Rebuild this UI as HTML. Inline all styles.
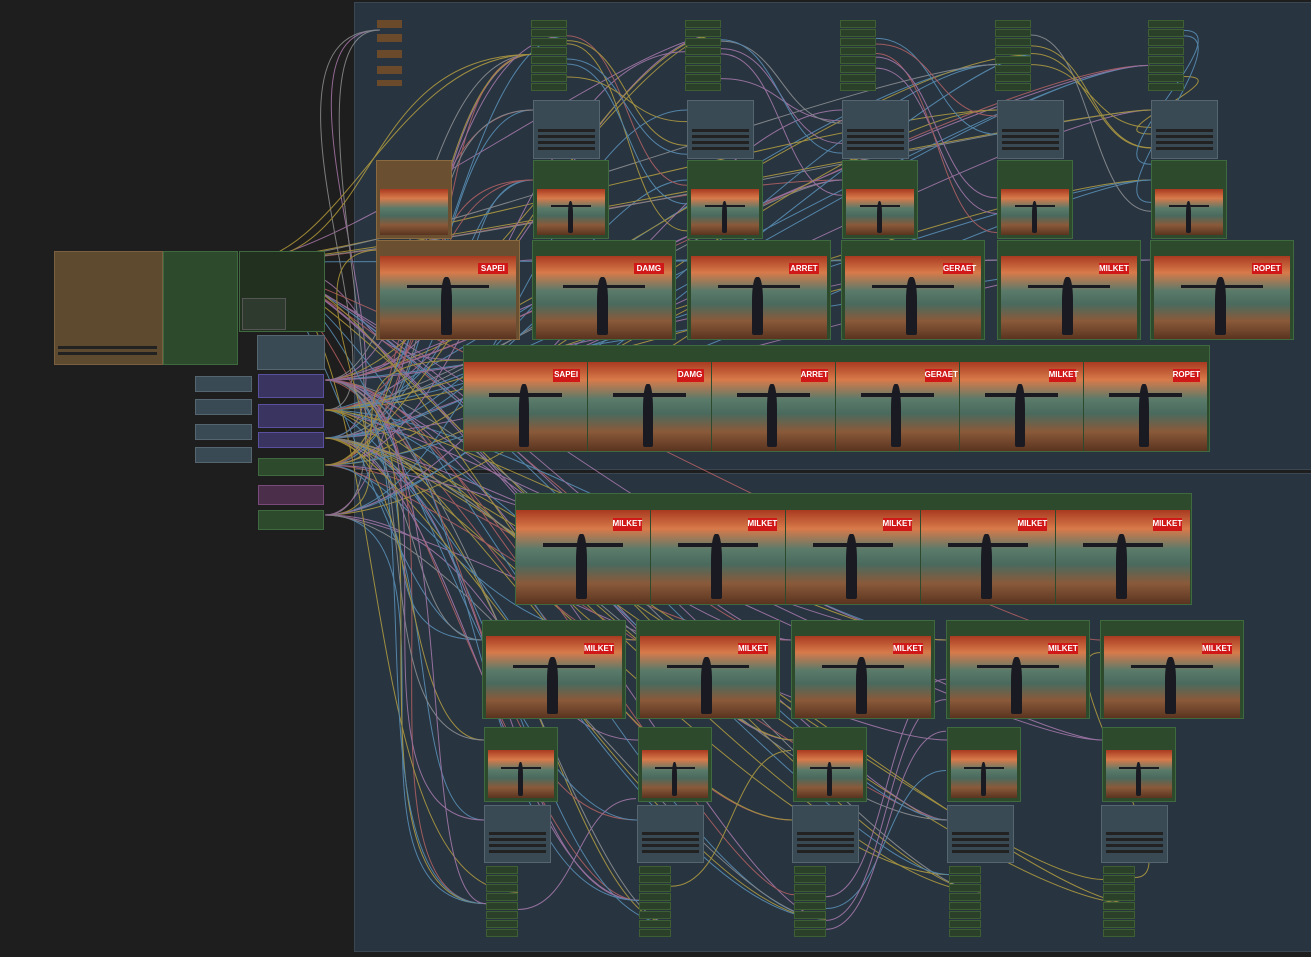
<!DOCTYPE html>
<html><head><meta charset="utf-8"><style>
body{margin:0;width:1311px;height:957px;background:#1e1e1e;overflow:hidden;position:relative;font-family:"Liberation Sans",sans-serif}
.a{position:absolute}
.grp{background:#283440;border:1px solid #3a4652}
.gn{background:#2d4a2d;border:1px solid #3f6a3f}
.gy{background:#3a4a55;border:1px solid #566670}
.img{background:linear-gradient(180deg,#a83a20 0%,#d87a4a 20%,#5a7a6a 42%,#4a6a5e 58%,#8a5a3a 78%,#5a3420 100%);overflow:hidden}
.fig{position:absolute;left:45%;top:25%;width:8%;height:70%;background:#1a1a22;border-radius:40% 40% 2px 2px}
.arm{position:absolute;left:20%;top:35%;width:60%;height:4%;background:#1a1a22}
.sign{position:absolute;right:6%;top:8%;width:22%;height:14%;background:#d01818;color:#fff;font-size:8px;font-weight:bold;text-align:center;line-height:1.6}
.bar{position:absolute;left:4px;right:4px;height:3px;background:#222}
.tiny{background:#2a4028;border:1px solid #3e5e34;height:6px}
</style></head><body>
<div class="a grp" style="left:354px;top:2px;width:956px;height:466px"></div>
<div class="a grp" style="left:354px;top:473px;width:956px;height:477px"></div>

<svg id="w" class="a" style="left:0;top:0" width="1311" height="957" fill="none" stroke-width="1" opacity="0.65"></svg>

<div class="a" style="left:54px;top:251px;width:107px;height:112px;background:#5e4a2e;border:1px solid #7a6040"></div>
<div class="bar" style="left:58px;top:346px;width:99px"></div><div class="bar" style="left:58px;top:352px;width:99px"></div>
<div class="a gn" style="left:163px;top:251px;width:73px;height:112px"></div>
<div class="a gn" style="left:239px;top:251px;width:84px;height:79px;background:#22301f"></div>
<div class="a" style="left:242px;top:298px;width:42px;height:30px;background:#2d3a2d;border:1px solid #555"></div>
<div class="a gy" style="left:257px;top:335px;width:66px;height:33px"></div>
<div class="a gy" style="left:195px;top:376px;width:55px;height:14px"></div>
<div class="a gy" style="left:195px;top:399px;width:55px;height:14px"></div>
<div class="a gy" style="left:195px;top:424px;width:55px;height:14px"></div>
<div class="a gy" style="left:195px;top:447px;width:55px;height:14px"></div>
<div class="a" style="left:258px;top:374px;width:64px;height:22px;background:#3a3460;border:1px solid #5a50a0"></div>
<div class="a" style="left:258px;top:404px;width:64px;height:22px;background:#3a3460;border:1px solid #5a50a0"></div>
<div class="a" style="left:258px;top:432px;width:64px;height:14px;background:#3a3460;border:1px solid #5a50a0"></div>
<div class="a gn" style="left:258px;top:458px;width:64px;height:16px"></div>
<div class="a" style="left:258px;top:485px;width:64px;height:18px;background:#4a2e4a;border:1px solid #7a4a7a"></div>
<div class="a gn" style="left:258px;top:510px;width:64px;height:18px"></div>

<div class="a" style="left:377px;top:20px;width:25px;height:8px;background:#6a4a2a"></div>
<div class="a" style="left:377px;top:34px;width:25px;height:8px;background:#6a4a2a"></div>
<div class="a" style="left:377px;top:50px;width:25px;height:8px;background:#6a4a2a"></div>
<div class="a" style="left:377px;top:66px;width:25px;height:8px;background:#6a4a2a"></div>
<div class="a" style="left:377px;top:80px;width:25px;height:6px;background:#6a4a2a"></div>

<div id="top"></div>
<div class="a" style="left:376px;top:160px;width:74px;height:77px;background:#6a5030;border:1px solid #8a6a40"><div class="img a" style="left:3px;top:28px;right:3px;bottom:3px"></div></div>
<div class="a" style="left:376px;top:240px;width:142px;height:98px;background:#6a5030;border:1px solid #8a6a40"><div class="img a" style="left:3px;top:15px;right:3px;bottom:0"><div class="fig"></div><div class="arm"></div><div class="sign">SAPEI</div></div></div>

<div class="a gn" style="left:463px;top:345px;width:745px;height:105px"><div id="s1" class="a" style="left:0;top:16px;right:0;bottom:0"></div></div>
<div class="a gn" style="left:515px;top:493px;width:675px;height:110px"><div id="s2" class="a" style="left:0;top:16px;right:0;bottom:0"></div></div>

<script>
var H='';
function add(s){H+=s}
var tx=[531,685,840,995,1148],ax=[533,687,842,997,1151],bx=[532,687,841,997,1150],sx=['DAMG','ARRET','GERAET','MILKET','ROPET'];
var fr='<div class="fig"></div><div class="arm"></div>';
for(var i=0;i<5;i++){
 for(var k=0;k<8;k++)add('<div class="a tiny" style="left:'+tx[i]+'px;top:'+(20+k*9)+'px;width:34px"></div>');
 add('<div class="a gy" style="left:'+ax[i]+'px;top:100px;width:65px;height:57px"><div class="bar" style="top:28px"></div><div class="bar" style="top:34px"></div><div class="bar" style="top:40px"></div><div class="bar" style="top:46px"></div></div>');
 add('<div class="a gn" style="left:'+ax[i]+'px;top:160px;width:74px;height:77px"><div class="img a" style="left:3px;top:28px;right:3px;bottom:3px">'+fr+'</div></div>');
 add('<div class="a gn" style="left:'+bx[i]+'px;top:240px;width:142px;height:98px"><div class="img a" style="left:3px;top:15px;right:3px;bottom:0">'+fr+'<div class="sign">'+sx[i]+'</div></div></div>');
}
var rx=[482,636,791,946,1100],mx=[484,638,793,947,1102],gx=[484,637,792,947,1101];
for(var i=0;i<5;i++){
 add('<div class="a gn" style="left:'+rx[i]+'px;top:620px;width:142px;height:97px"><div class="img a" style="left:3px;top:15px;right:3px;bottom:0">'+fr+'<div class="sign">MILKET</div></div></div>');
 add('<div class="a gn" style="left:'+mx[i]+'px;top:727px;width:72px;height:73px"><div class="img a" style="left:3px;top:22px;right:3px;bottom:3px">'+fr+'</div></div>');
 add('<div class="a gy" style="left:'+gx[i]+'px;top:805px;width:65px;height:56px"><div class="bar" style="top:26px"></div><div class="bar" style="top:32px"></div><div class="bar" style="top:38px"></div><div class="bar" style="top:44px"></div></div>');
 for(var k=0;k<8;k++)add('<div class="a tiny" style="left:'+(gx[i]+2)+'px;top:'+(866+k*9)+'px;width:30px"></div>');
}
document.getElementById('top').outerHTML=H;
var s1=['SAPEI','DAMG','ARRET','GERAET','MILKET','ROPET'],h='';
for(var j=0;j<6;j++)h+='<div class="img a" style="left:'+(j*124)+'px;width:123px;top:0;bottom:0">'+fr+'<div class="sign">'+s1[j]+'</div></div>';
document.getElementById('s1').innerHTML=h;h='';
for(var j=0;j<5;j++)h+='<div class="img a" style="left:'+(j*135)+'px;width:134px;top:0;bottom:0">'+fr+'<div class="sign">MILKET</div></div>';
document.getElementById('s2').innerHTML=h;
var seed=7;function r(){seed=(seed*9301+49297)%233280;return seed/233280}
var cols=['#e0c040','#d090d0','#6ab0e0','#e07070','#b0b0b0','#e0c040','#d090d0','#6ab0e0'];
var src=[[325,380],[325,410],[325,438],[325,465],[325,515],[240,262]];
var dst=[];
for(var i=0;i<5;i++){dst.push([tx[i]+2,25+r()*60],[ax[i],110],[ax[i],180],[bx[i],260],[rx[i],640],[mx[i],740],[gx[i],820],[gx[i]+2,870+r()*60],[tx[i]+36,30+r()*50],[gx[i]+34,880+r()*50]);}
dst.push([463,360],[515,505],[380,30],[380,170],[380,250]);
var p='';
for(var n=0;n<120;n++){var s=src[Math.floor(r()*src.length)],d=dst[Math.floor(r()*dst.length)];
 var c=cols[Math.floor(r()*cols.length)];
 p+='<path stroke="'+c+'" d="M'+s[0]+' '+s[1]+' C'+(s[0]+80+r()*100)+' '+s[1]+' '+(d[0]-80-r()*100)+' '+d[1]+' '+d[0]+' '+d[1]+'"/>';}
for(var n=0;n<30;n++){var i=Math.floor(r()*5),j=Math.min(4,i+1);var c=cols[Math.floor(r()*cols.length)];
 var a=[tx[i]+36,30+r()*50],b=[ax[j],110+r()*130];if(r()<0.5){a=[gx[i]+34,870+r()*60];b=[rx[j],650+r()*170];}
 p+='<path stroke="'+c+'" d="M'+a[0]+' '+a[1]+' C'+(a[0]+60)+' '+a[1]+' '+(b[0]-60)+' '+b[1]+' '+b[0]+' '+b[1]+'"/>';}
document.getElementById('w').innerHTML=p;
</script>
</body></html>
